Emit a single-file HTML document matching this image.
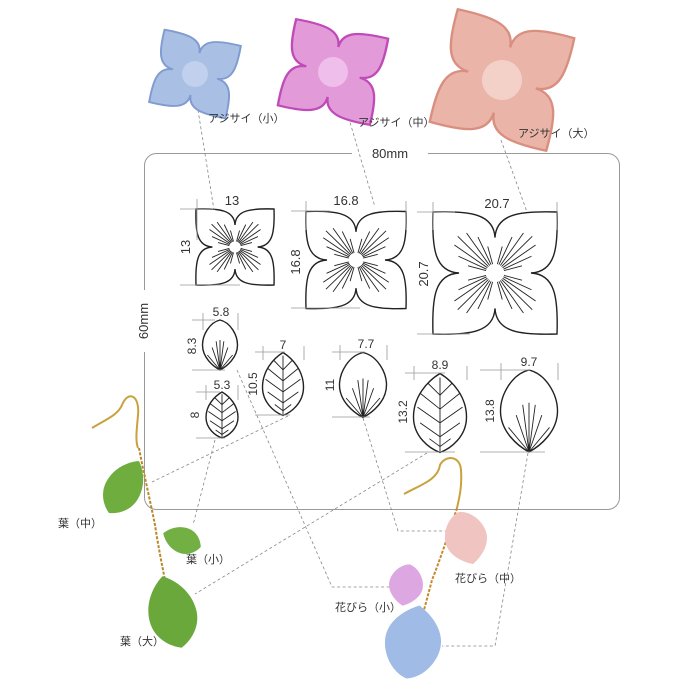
<!DOCTYPE html>
<html><head><meta charset="utf-8"><style>
html,body{margin:0;padding:0;background:#fff;}
svg{display:block;}
text{font-family:"Liberation Sans","Noto Sans CJK JP",sans-serif;fill:#333;}
.d{fill:none;stroke:#222;stroke-width:1.4;vector-effect:non-scaling-stroke;}
.v{fill:none;stroke:#222;stroke-width:0.9;vector-effect:non-scaling-stroke;}
.g{stroke:#999;stroke-width:0.8;fill:none;}
.dash{stroke:#888;stroke-width:0.8;fill:none;stroke-dasharray:3,2.5;}
</style></head><body>
<svg width="700" height="700" viewBox="0 0 700 700" xmlns="http://www.w3.org/2000/svg">
<defs>
<path id="flp" d="M0,-0.58 C0.02,-0.97 0.4,-1.02 1,-1 C1.02,-0.4 0.97,-0.02 0.58,0 C0.97,0.02 1.02,0.4 1,1 C0.4,1.02 0.02,0.97 0,0.58 C-0.02,0.97 -0.4,1.02 -1,1 C-1.02,0.4 -0.97,0.02 -0.58,0 C-0.97,-0.02 -1.02,-0.4 -1,-1 C-0.4,-1.02 -0.02,-0.97 0,-0.58Z"/>
<path id="fl" class="d" d="M0,-0.58 C0.02,-0.97 0.4,-1.02 1,-1 C1.02,-0.4 0.97,-0.02 0.58,0 C0.97,0.02 1.02,0.4 1,1 C0.4,1.02 0.02,0.97 0,0.58 C-0.02,0.97 -0.4,1.02 -1,1 C-1.02,0.4 -0.97,0.02 -0.58,0 C-0.97,-0.02 -1.02,-0.4 -1,-1 C-0.4,-1.02 -0.02,-0.97 0,-0.58Z"/>
<path id="pv" class="v" d="M.106,-.106L.601,-.601 M.123,-.086L.655,-.459 M.086,-.123L.459,-.655 M.136,-.063L.589,-.275 M.063,-.136L.275,-.589 M.145,-.039L.435,-.117 M.039,-.145L.117,-.435"/>
<path id="pt" class="d" d="M0,-1 C0.6,-0.9 1,-0.4 1,0 C1,0.5 0.4,0.85 0,1 C-0.4,0.85 -1,0.5 -1,0 C-1,-0.4 -0.6,-0.9 0,-1Z"/>
<path id="ptv" class="v" d="M0,1L-0.45,0.1 M0,1L-0.22,-0.15 M0,1L0,-0.2 M0,1L0.22,-0.15 M0,1L0.45,0.1 M0,1L-0.72,0.4 M0,1L0.72,0.4"/>
<path id="lf" class="d" d="M0,-1 C0.5,-0.8 1,-0.4 1,0.1 C1,0.6 0.4,0.9 0,1 C-0.4,0.9 -1,0.6 -1,0.1 C-1,-0.4 -0.5,-0.8 0,-1Z"/>
<path id="lfv" class="v" d="M0,-0.9L0,1 M0,-0.45L0.45,-0.75 M0,-0.45L-0.45,-0.75 M0,-0.1L0.75,-0.5 M0,-0.1L-0.75,-0.5 M0,0.25L0.85,-0.15 M0,0.25L-0.85,-0.15 M0,0.6L0.75,0.25 M0,0.6L-0.75,0.25 M0,0.85L0.4,0.65 M0,0.85L-0.4,0.65"/>
<path id="lfp" d="M0,-1 C0.5,-0.8 1,-0.4 1,0.1 C1,0.6 0.4,0.9 0,1 C-0.4,0.9 -1,0.6 -1,0.1 C-1,-0.4 -0.5,-0.8 0,-1Z"/>
<path id="ptp" d="M0,-1 C0.6,-0.9 1,-0.4 1,0 C1,0.5 0.4,0.85 0,1 C-0.4,0.85 -1,0.5 -1,0 C-1,-0.4 -0.6,-0.9 0,-1Z"/>
</defs>

<!-- frame -->
<rect x="144.5" y="153.5" width="475" height="356" rx="12" fill="none" stroke="#999" stroke-width="1"/>
<rect x="352" y="144" width="76" height="18" fill="#fff"/>
<text x="390" y="158" font-size="13" text-anchor="middle">80mm</text>
<rect x="134" y="290" width="18" height="62" fill="#fff"/>
<text transform="translate(148,321) rotate(-90)" font-size="13" text-anchor="middle">60mm</text>

<!-- dashed connectors -->
<path class="dash" d="M198,110 L214,210"/>
<path class="dash" d="M347,112 L375,207"/>
<path class="dash" d="M501,140 L527,212"/>
<path class="dash" d="M215,440 L193,525"/>
<path class="dash" d="M288,416 L152,482"/>
<path class="dash" d="M237,370 L332,587 L390,587"/>
<path class="dash" d="M363,418 L398,531 L446,531"/>
<path class="dash" d="M427,453 L195,594"/>
<path class="dash" d="M528,453 L495,646 L442,646"/>

<!-- photo flowers -->
<g transform="translate(195,74) rotate(12) scale(39,37)"><use href="#flp" fill="#a9bfe3" stroke="#7f9bd0" stroke-width="0.05"/></g>
<circle cx="195" cy="74" r="13" fill="#c7d4ee" opacity="0.8"/>
<g transform="translate(333,72) rotate(12) scale(47,44)"><use href="#flp" fill="#e29ad9" stroke="#c04bb8" stroke-width="0.05"/></g>
<circle cx="333" cy="72" r="15" fill="#f2c7ee" opacity="0.8"/>
<g transform="translate(502,80) rotate(14) scale(60,58)"><use href="#flp" fill="#eab5a8" stroke="#d98f80" stroke-width="0.04"/></g>
<circle cx="502" cy="80" r="20" fill="#f6d8d0" opacity="0.8"/>
<text x="208" y="122" font-size="11">アジサイ（小）</text>
<text x="358" y="126" font-size="11">アジサイ（中）</text>
<text x="518" y="137" font-size="11">アジサイ（大）</text>

<!-- drawings: flowers -->
<g transform="translate(235,247) scale(39,38)"><use href="#fl"/><use href="#pv"/><use href="#pv" transform="rotate(90)"/><use href="#pv" transform="rotate(180)"/><use href="#pv" transform="rotate(270)"/></g>
<g transform="translate(356,260) scale(50,48.5)"><use href="#fl"/><use href="#pv"/><use href="#pv" transform="rotate(90)"/><use href="#pv" transform="rotate(180)"/><use href="#pv" transform="rotate(270)"/></g>
<g transform="translate(495,273) scale(62,61)"><use href="#fl"/><use href="#pv"/><use href="#pv" transform="rotate(90)"/><use href="#pv" transform="rotate(180)"/><use href="#pv" transform="rotate(270)"/></g>

<!-- petals/leaves -->
<g transform="translate(220,345) scale(17.5,25)"><use href="#pt"/><use href="#ptv"/></g>
<g transform="translate(222,415) scale(16,23)"><use href="#lf"/><use href="#lfv"/></g>
<g transform="translate(283,384) scale(20.5,31.5)"><use href="#lf"/><use href="#lfv"/></g>
<g transform="translate(363,385) scale(23.5,32.5)"><use href="#pt"/><use href="#ptv"/></g>
<g transform="translate(440,413) scale(26.5,39.5)"><use href="#lf"/><use href="#lfv"/></g>
<g transform="translate(529,411) scale(28.5,41)"><use href="#pt"/><use href="#ptv"/></g>

<!-- dimension lines -->
<g class="g">
<path d="M197,199V240 M180,209H215 M180,285H240"/>
<path d="M306,201V230 M406,201V230 M291,211H330 M291,308H360"/>
<path d="M433,202V230 M557,202V230 M417,212H455 M417,334H470"/>
<path d="M203,313V330 M238,313V330 M192,320H215 M192,370H225"/>
<path d="M206,385V400 M238,385V400 M196,392H220 M196,438H225"/>
<path d="M263,346V360 M304,346V360 M255,352H285 M255,415H290"/>
<path d="M340,345V360 M387,345V360 M332,352H365 M332,417H370"/>
<path d="M414,366V380 M467,366V380 M405,373H445 M405,452H455"/>
<path d="M501,363V380 M558,363V380 M480,370H530 M480,452H545"/>
</g>
<g font-size="13" text-anchor="middle">
<text x="232" y="205">13</text>
<text transform="translate(190,247) rotate(-90)">13</text>
<text x="346" y="205">16.8</text>
<text transform="translate(300,262) rotate(-90)">16.8</text>
<text x="497" y="208">20.7</text>
<text transform="translate(428,274) rotate(-90)">20.7</text>
<text x="221" y="316" font-size="12">5.8</text>
<text transform="translate(196,346) rotate(-90)" font-size="12">8.3</text>
<text x="222" y="389" font-size="12">5.3</text>
<text transform="translate(199,415) rotate(-90)" font-size="12">8</text>
<text x="283" y="349" font-size="12">7</text>
<text transform="translate(257,384) rotate(-90)" font-size="12">10.5</text>
<text x="366" y="348" font-size="12">7.7</text>
<text transform="translate(334,385) rotate(-90)" font-size="12">11</text>
<text x="440" y="369" font-size="12">8.9</text>
<text transform="translate(407,412) rotate(-90)" font-size="12">13.2</text>
<text x="529" y="366" font-size="12">9.7</text>
<text transform="translate(494,411) rotate(-90)" font-size="12">13.8</text>
</g>

<!-- left earring -->
<path d="M92,428 C105,420 118,415 122,405 C128,390 140,395 138,415 C137,428 135,440 138,448" fill="none" stroke="#c9a23d" stroke-width="2"/>
<path d="M139,448 C143,470 150,500 155,525 C158,545 162,565 165,580" fill="none" stroke="#b8892a" stroke-width="2" stroke-dasharray="3,1.5"/>
<g transform="translate(124,487) rotate(30) scale(18,30)"><use href="#lfp" fill="#6fae3e"/></g>
<g transform="translate(182,540) rotate(-70) scale(13,20)"><use href="#lfp" fill="#72b043"/></g>
<g transform="translate(172,612) rotate(-15) scale(24,37)"><use href="#lfp" fill="#6aa83c"/></g>
<g font-size="11">
<text x="58" y="527">葉（中）</text>
<text x="186" y="563">葉（小）</text>
<text x="120" y="645">葉（大）</text>
</g>

<!-- right earring -->
<path d="M404,494 C420,485 438,480 440,465 C445,455 460,455 461,470 C462,485 460,495 457,508" fill="none" stroke="#c9a23d" stroke-width="2"/>
<path d="M457,508 C450,530 440,560 432,580 C428,595 424,610 420,625" fill="none" stroke="#c8892a" stroke-width="2" stroke-dasharray="3,1.5"/>
<g transform="translate(466,538) rotate(-15) scale(21,27)"><use href="#ptp" fill="#f0c4c0"/></g>
<g transform="translate(406,585) rotate(10) scale(17,21)"><use href="#ptp" fill="#dda8e2"/></g>
<g transform="translate(413,642) rotate(190) scale(28,37)"><use href="#ptp" fill="#9fbbe6"/></g>
<g font-size="11">
<text x="455" y="582">花びら（中）</text>
<text x="335" y="611">花びら（小）</text>
</g>
</svg>
</body></html>
